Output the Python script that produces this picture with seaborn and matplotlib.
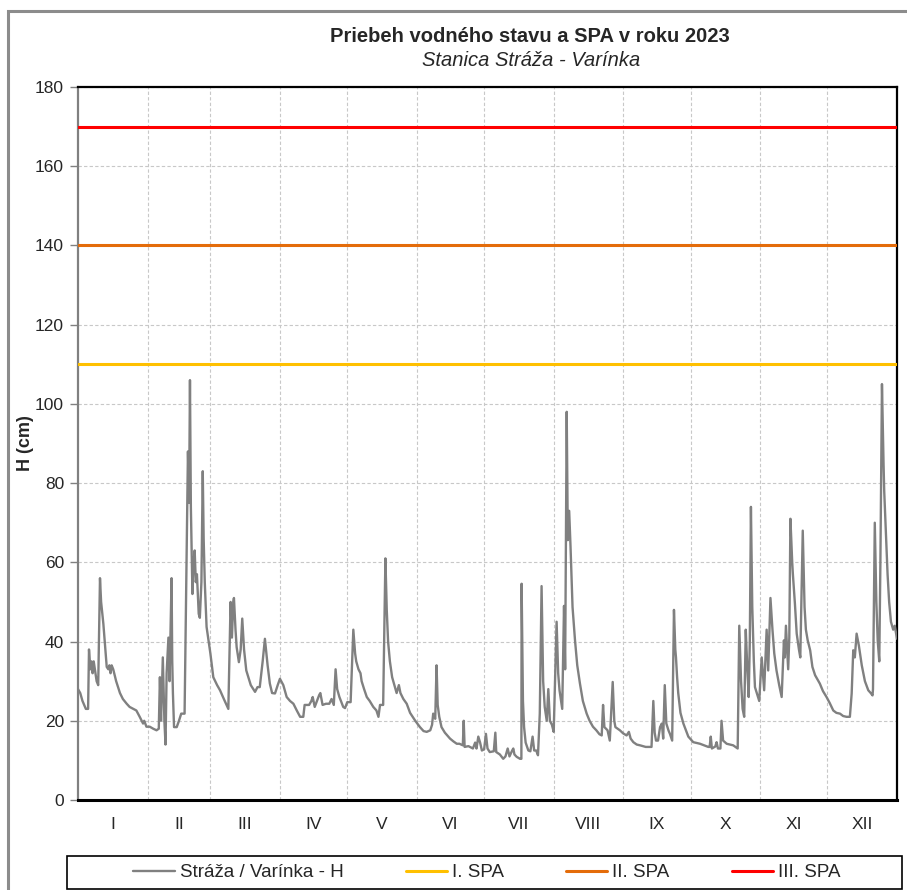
import matplotlib
matplotlib.use("Agg")
import matplotlib.pyplot as plt
import seaborn as sns
import pandas as pd
from matplotlib.patches import Rectangle

# ---------------- data ----------------
title = "Priebeh vodného stavu a SPA v roku 2023"
subtitle = "Stanica Stráža - Varínka"
series_label = "Stráža / Varínka - H"
month_labels = ["I", "II", "III", "IV", "V", "VI", "VII", "VIII", "IX", "X", "XI", "XII"]
month_starts = [0, 31, 59, 90, 120, 151, 181, 212, 243, 273, 304, 334, 365]

spa_levels = [110, 140, 170]
spa_labels = ["I. SPA", "II. SPA", "III. SPA"]
spa_colors = ["#FFC000", "#E46C0A", "#FF0000"]

# day of year (fractional) and water level H in cm
day = [
    0, 1, 2, 3.5, 4.5, 4.9, 5.5, 6, 6.5, 7, 7.5, 8.3, 9, 9.8, 10.3, 11.3, 12.8, 13.5, 14, 14.5,
    15, 15.7, 17, 18.7, 20, 21.7, 23, 24, 26, 27.5, 29, 29.5, 30.5, 32, 33.5, 35, 36, 36.5, 37, 37.8,
    38.5, 39, 39.5, 40.3, 40.8, 41.3, 41.7, 42, 42.3, 42.8, 44, 45, 46, 47.5, 48.4, 49, 49.5, 49.9, 50.3, 51,
    51.5, 52, 52.5, 53, 53.8, 54.3, 55, 55.6, 56, 56.5, 57.3, 59, 60.3, 62, 63.3, 65, 67, 67.6, 68, 68.6,
    69.2, 69.5, 70.2, 70.7, 71.7, 72.5, 73.2, 74, 75, 77, 78.9, 80, 81, 82.3, 83.3, 84.5, 85.5, 86.5, 87.8, 89,
    90, 91.5, 93, 94.5, 96, 97.5, 99, 100.4, 101, 103, 104, 104.6, 105.5, 106.5, 107.5, 108, 109, 110.5, 112, 113,
    114, 114.8, 115.5, 116.5, 118.2, 119, 120, 121.5, 122.7, 123.5, 124, 125, 125.9, 126.4, 127.5, 128.7, 130, 131.6, 133, 133.9,
    134.6, 136, 137, 137.6, 138.2, 139, 140, 141, 142, 143, 143.7, 145, 146.5, 148, 150.3, 152.4, 154, 155.4, 157, 157.8,
    158.3, 159.2, 159.8, 160.3, 161, 162, 163.5, 165.8, 167.3, 168.8, 170, 171.5, 171.9, 172.3, 174, 176, 177, 177.6, 178.4, 179.2,
    180, 181, 181.8, 182.5, 183.5, 185.3, 186, 186.4, 188, 189.5, 190.5, 191.5, 192.3, 193.5, 194, 194.5, 195.5, 197, 197.6, 197.7,
    198.3, 198.8, 199.5, 200.7, 201.6, 202.6, 203.3, 204.2, 205, 205.8, 206.6, 207.3, 208, 208.9, 209.6, 210.3, 211.2, 212, 213.3, 214,
    214.6, 215.8, 216.6, 217.1, 217.8, 218.3, 218.9, 219.5, 220.4, 221.5, 222.5, 223.7, 225, 226.7, 228, 229.5, 231, 232.4, 233.4, 234,
    234.6, 236, 237, 238.3, 239, 239.5, 240.5, 241.5, 243, 244.5, 245.5, 246.3, 247.5, 249, 250.5, 253, 255.6, 256.4, 257, 257.6,
    258.5, 259.4, 260.2, 260.8, 261.5, 262.2, 263.2, 263.8, 264.8, 265.6, 266.2, 266.5, 267, 267.5, 268.5, 269.8, 271, 272, 274.2, 277.2,
    279, 280.9, 281.5, 282, 282.5, 284, 284.6, 285.2, 286.3, 286.8, 287.5, 289.1, 292, 294, 294.7, 295.5, 296.2, 296.9, 297.6, 298.3,
    298.9, 299.4, 299.9, 300.5, 301.2, 301.7, 302.5, 303.6, 304.7, 305.8, 306.9, 307.6, 308.6, 309.5, 310.3, 311.3, 312.5, 313.6, 314.6, 315,
    315.5, 316.5, 317, 317.5, 318.3, 318.6, 319.5, 320.3, 321.3, 321.9, 323, 323.8, 324.4, 325.2, 326.3, 327.3, 328.5, 330.6, 332, 333.6,
    335, 336.6, 338, 339.6, 341, 342.5, 344, 344.8, 345.5, 346.2, 347, 348, 349.3, 350.7, 352.2, 353.3, 354.1, 354.3, 355.1, 355.8,
    356.4, 357.1, 357.6, 358.3, 359, 359.3, 360, 360.8, 361.5, 362.3, 363.3, 364, 365,
]
level = [
    28, 27, 25, 23, 23, 38, 33, 35, 32, 35, 33, 30, 29, 56, 50, 44.5, 33.6, 33, 34, 32,
    34, 33, 30, 27, 25.5, 24.3, 23.5, 23.2, 22.6, 21, 19.3, 20, 18.5, 18.5, 18, 17.6, 18, 31, 20, 36,
    20, 14, 32, 41, 30, 44, 56, 35, 27, 18.4, 18.4, 20, 21.8, 21.8, 61, 88, 75, 106, 74, 52,
    60, 63, 55, 57, 47, 46, 55, 83, 66, 55, 43.7, 37, 31, 29, 27.7, 25.5, 23, 40, 50, 41,
    50, 51, 43, 38.6, 34.8, 38, 45.8, 38, 32.7, 29, 27.3, 28.5, 28.5, 35, 40.7, 34, 29.4, 27, 26.9, 29,
    30.6, 29, 26, 25, 24.3, 22.6, 21, 21, 24, 24, 25, 26, 23.5, 25, 26.5, 27, 24, 24.3, 24.3, 25.5,
    24, 33, 28, 26, 23.5, 23.2, 24.7, 24.7, 43, 37, 35, 33, 32, 30, 28, 26, 25, 23.5, 22.6, 21,
    24, 24, 61, 48, 40, 35, 31, 29, 27, 29, 27, 25.5, 24.3, 22, 20, 18.4, 17.4, 17.2, 17.6, 19,
    21.8, 20.5, 34, 24, 21, 18.4, 17, 15.5, 14.8, 14.2, 14.2, 13.8, 20, 13.4, 13.6, 13, 14.5, 13, 16, 14.5,
    12.5, 12.8, 16.7, 13, 12.1, 12.3, 17, 12.1, 11.5, 10.4, 11, 13, 11, 12.5, 13, 11.5, 10.9, 10.4, 10.4, 54.6,
    25, 18.4, 14.5, 12.5, 12.3, 16, 12.5, 12.5, 11.3, 21.8, 54, 30, 23.5, 20, 28, 20, 19, 17.2, 45, 32,
    27.7, 23, 49, 33, 98, 65.6, 73, 64, 48.7, 40.3, 34, 29.4, 25, 21.8, 20, 18.5, 17.6, 16.6, 16.3, 24,
    18.4, 17.6, 15, 29.8, 20, 18.4, 18, 17.6, 16.8, 16.3, 17.2, 15.5, 14.6, 14, 13.8, 13.4, 13.4, 25, 17, 15,
    15, 18.4, 19.3, 15.5, 29, 19.3, 17.5, 16.7, 15, 48, 38, 36, 31, 27, 22, 19.3, 17.5, 16, 14.6, 14.2,
    13.8, 13.4, 13.4, 16, 13, 13.5, 14.6, 13, 13, 20, 15, 14.2, 13.8, 13, 44, 30, 23, 21, 43, 33,
    26, 40, 74, 48.7, 35, 28.5, 27, 25, 36, 27.7, 43, 32.7, 51, 43, 37, 32.7, 29, 26, 40.3, 36,
    44, 33, 41, 71, 60, 57, 49.6, 42, 38, 36, 68, 48.7, 43, 40.3, 37.8, 33.6, 31.5, 29.4, 27.5, 26,
    24.5, 22.6, 22, 21.8, 21.2, 21, 21, 26.9, 37.8, 36, 42, 39, 34, 30, 27.7, 27, 26.4, 28, 70, 50,
    40.3, 35, 60, 105, 85, 78, 68, 57, 50, 45, 43, 44, 40.7,
]

df = pd.DataFrame({"day": day, "H": level})

# ---------------- styling ----------------
sns.set_theme(style="white")
plt.rcParams["font.family"] = ["Liberation Sans", "DejaVu Sans"]

W, H = 907, 890
fig = plt.figure(figsize=(W / 100, H / 100), dpi=100)
ax = fig.add_axes([78 / W, 1 - 800 / H, (897 - 78) / W, (800 - 87) / H])

# outer chart border (gray)
fig.patches.append(Rectangle((8 / W, -0.05), 1.2, 1 - 11 / H + 0.05, transform=fig.transFigure,
                             fill=False, edgecolor="#8C8C8C", linewidth=2.2, zorder=0))

grid_kw = dict(color="#C8C8C8", linewidth=0.8, linestyle=(0, (3, 2)), zorder=0)
for v in range(20, 181, 20):
    ax.axhline(v, **grid_kw)
for d in month_starts[1:-1]:
    ax.axvline(d, **grid_kw)

sns.lineplot(data=df, x="day", y="H", ax=ax, color="#808080", linewidth=1.7,
             label=series_label, legend=False, zorder=3)
for lvl, lab, col in zip(spa_levels, spa_labels, spa_colors):
    ax.axhline(lvl, color=col, linewidth=2.2, label=lab, zorder=4)

ax.set_xlim(0, 365)
ax.set_ylim(0, 180)
ax.set_yticks(range(0, 181, 20))
ax.tick_params(axis="y", which="major", length=6, width=1, color="#808080", direction="out",
               labelsize=12.5, pad=4, left=True)
ax.set_xticks(month_starts)
ax.set_xticklabels([])
centers = [(a + b) / 2 for a, b in zip(month_starts[:-1], month_starts[1:])]
ax.set_xticks(centers, minor=True)
ax.set_xticklabels(month_labels, minor=True)
ax.tick_params(axis="x", which="both", length=0, labelsize=12.5, pad=12)
ax.set_xlabel("")
ax.set_ylabel("H (cm)", fontsize=13, fontweight="bold")
ax.yaxis.set_label_coords((34 - 78) / (897 - 78), 0.5)

for s in ["top", "right", "bottom"]:
    ax.spines[s].set_color("black")
    ax.spines[s].set_linewidth(1.6)
ax.spines["bottom"].set_linewidth(2.2)
ax.spines["left"].set_color("#808080")
ax.spines["left"].set_linewidth(1.6)

fig.text(530 / W, 1 - 37 / H, title, ha="center", va="center", fontsize=14.5, fontweight="bold")
fig.text(531 / W, 1 - 60 / H, subtitle, ha="center", va="center", fontsize=14.5, style="italic")

# legend
handles, labels = ax.get_legend_handles_labels()
leg = fig.legend(handles, labels, loc="center", bbox_to_anchor=(487 / W, 1 - 872.5 / H),
                 ncol=4, frameon=False, fontsize=13.5, handlelength=2.2, handletextpad=0.28,
                 columnspacing=3.3)
fig.patches.append(Rectangle((67 / W, 1 - 889 / H), (902 - 67) / W, 33 / H, transform=fig.transFigure,
                             fill=False, edgecolor="black", linewidth=1.2))

fig.savefig("out.png", dpi=100)
